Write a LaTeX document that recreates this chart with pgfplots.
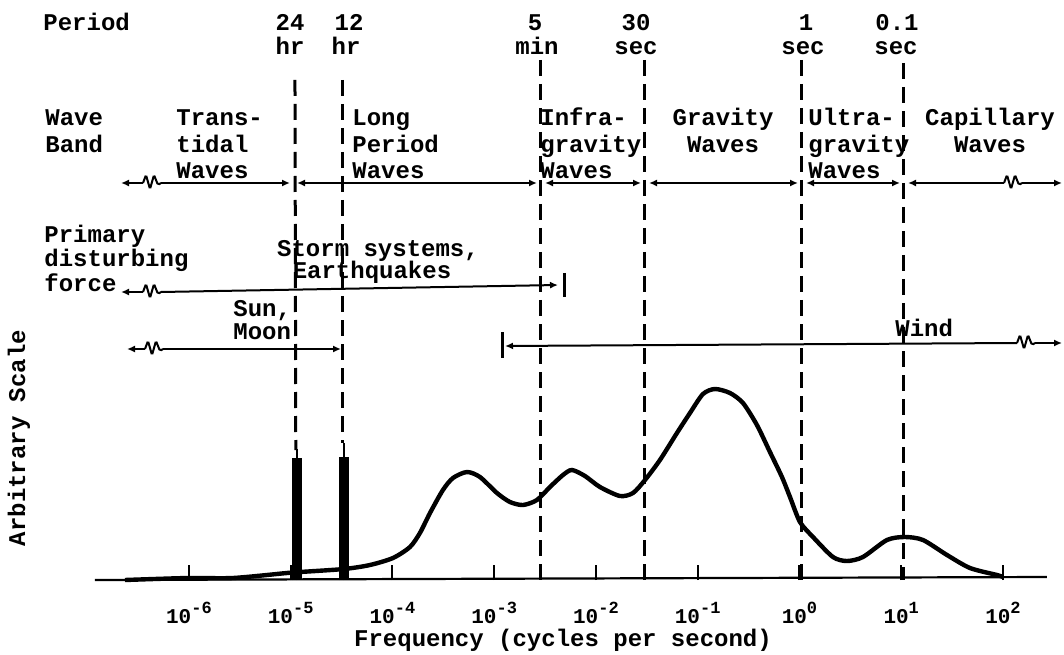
\documentclass[border=0pt]{standalone}
\usepackage{pgfplots}
\pgfplotsset{compat=1.18}
\usepackage{fontspec}
\setmainfont{Liberation Mono}
\usetikzlibrary{arrows.meta}
\newcommand{\tf}{\fontsize{12}{14}\selectfont\bfseries}
\newcommand{\E}[1]{10\raisebox{5pt}{\fontsize{8.5}{9}\selectfont #1}}
\tikzset{wig/.pic={\draw[line width=1pt, rounded corners=0.8pt] (0,0) -- (3,-8) -- (7,6) -- (11,-8) -- (15,2) -- (18,0);}}
\begin{document}
\begin{tikzpicture}
\begin{axis}[
  at={(0,0)}, anchor=south west,
  scale only axis, width=532pt, height=327pt,
  xmin=-7.857, xmax=2.600, ymin=-74, ymax=580,
  axis x line=middle, axis y line=none,
  x axis line style={draw=none},
  hide obscured x ticks=false,
  xtick={-6,-5,-4,-3,-2,-1,0,1,2},
  xticklabels={\E{-6},\E{-5},\E{-4},\E{-3},\E{-2},\E{-1},\E{0},\E{1},\E{2}},
  ytick=\empty,
  major tick length=0pt,
  xticklabel style={font=\fontsize{10.5}{12}\selectfont\bfseries, anchor=base, yshift=-21.5pt, inner sep=0pt},
  clip=false,
]
% baseline
\addplot[black, line width=1.1pt] coordinates {(-6.924,0) (2.432,3)};
% tick marks (pointing up from the baseline)
\addplot[black, ycomb, line width=1pt] coordinates {(-6,15) (-5,15) (-4,15) (-3,15) (-2,15) (-1,15) (0,15) (1,15) (2,15)};
% spectrum curve
\addplot[black, line width=2.2pt, smooth, tension=0.45] coordinates {
(-6.629,0) (-6.010,2) (-5.568,2) (-5.037,7) (-4.909,8) (-4.477,11) (-4.221,15)
(-3.995,22) (-3.828,33) (-3.730,47) (-3.631,67) (-3.504,90) (-3.405,102)
(-3.268,108) (-3.140,103) (-2.973,87) (-2.845,78) (-2.717,75) (-2.580,80)
(-2.452,93) (-2.324,105) (-2.236,110) (-2.108,104) (-1.961,93) (-1.764,84)
(-1.636,87) (-1.518,100) (-1.371,120) (-1.204,147) (-1.076,167) (-0.948,186)
(-0.830,191) (-0.683,187) (-0.555,177) (-0.418,155) (-0.290,128) (-0.172,103)
(-0.093,83) (0.005,58) (0.133,43) (0.329,23) (0.467,19) (0.624,23) (0.860,40)
(1.037,43) (1.214,40) (1.450,25) (1.676,12) (1.941,5) (2.000,3)};
% tidal lines (24 hr, 12 hr)
\addplot[black, ycomb, line width=5pt] coordinates {(-4.939,122) (-4.477,123)};
\addplot[black, ycomb, line width=1.4pt] coordinates {(-4.939,131) (-4.477,137)};
% period boundaries
\addplot[black, line width=1.5pt, dash pattern=on 8pt off 4pt] coordinates {(-4.958,500) (-4.950,130)};
\addplot[black, line width=1.5pt, dash pattern=on 8pt off 4pt] coordinates {(-4.487,500) (-4.487,137)};
\addplot[black, line width=1.5pt, dash pattern=on 8pt off 4pt] coordinates {(-2.541,520) (-2.541,0)};
\addplot[black, line width=1.5pt, dash pattern=on 8pt off 4pt] coordinates {(-1.518,520) (-1.518,0)};
\addplot[black, line width=1.5pt, dash pattern=on 8pt off 4pt] coordinates {(0.025,520) (0.025,0)};
\addplot[black, line width=1.5pt, dash pattern=on 8pt off 4pt] coordinates {(1.027,517) (1.027,0)};
\end{axis}
\begin{scope}[shift={(0pt,327pt)}, x=0.5pt, y=-0.5pt, every node/.style={inner sep=0pt, font=\tf}]
% Period row
\node[anchor=base west] at (43,31) {Period};
\node[anchor=base] at (290,31) {24};
\node[anchor=base] at (349,31) {12};
\node[anchor=base] at (535,31) {5};
\node[anchor=base] at (636,31) {30};
\node[anchor=base] at (806,31) {1};
\node[anchor=base] at (897,31) {0.1};
\node[anchor=base] at (290,55) {hr};
\node[anchor=base] at (346,55) {hr};
\node[anchor=base] at (537,55) {min};
\node[anchor=base] at (636,55) {sec};
\node[anchor=base] at (803,55) {sec};
\node[anchor=base] at (896,55) {sec};
% Wave band
\node[anchor=base west] at (45,126) {Wave};
\node[anchor=base west] at (45,153) {Band};
\node[anchor=base west] at (176,126) {Trans-};
\node[anchor=base west] at (176,153) {tidal};
\node[anchor=base west] at (176,179) {Waves};
\node[anchor=base west] at (352,126) {Long};
\node[anchor=base west] at (352,153) {Period};
\node[anchor=base west] at (352,179) {Waves};
\node[anchor=base west] at (540,126) {Infra-};
\node[anchor=base west] at (540,153) {gravity};
\node[anchor=base west] at (540,179) {Waves};
\node[anchor=base] at (723,126) {Gravity};
\node[anchor=base] at (723,153) {Waves};
\node[anchor=base west] at (808,126) {Ultra-};
\node[anchor=base west] at (808,153) {gravity};
\node[anchor=base west] at (808,179) {Waves};
\node[anchor=base] at (990,126) {Capillary};
\node[anchor=base] at (990,153) {Waves};
% Wave band arrows
\begin{scope}[line width=1pt, >={Latex[length=4pt,width=3.5pt]}]
\draw[<-] (121,183) -- (143,183);
\pic at (143,183) {wig};
\draw[->] (161,183) -- (290,183);
\draw[<->] (297,183) -- (537,183);
\draw[<->] (545,183) -- (641,183);
\draw[<->] (649,183) -- (798,183);
\draw[<->] (806,183) -- (900,183);
\draw[<-] (908,183) -- (1004,183);
\pic at (1004,183) {wig};
\draw[->] (1022,183) -- (1062,183);
% Primary disturbing force
\draw[<-] (121,292) -- (143,292);
\pic at (143,292) {wig};
\draw[->] (161,292) -- (558,285);
\draw[line width=1.5pt] (564,273) -- (564,297);
\draw[<-] (127,349) -- (145,349);
\pic at (145,349) {wig};
\draw[->] (163,349) -- (341,349);
\draw[line width=1.5pt] (502,332) -- (502,358);
\draw[<-] (505,346) -- (1017,343);
\pic at (1017,343) {wig};
\draw[->] (1035,343) -- (1062,343);
\end{scope}
\node[anchor=base west] at (44,243) {Primary};
\node[anchor=base west] at (44,267) {disturbing};
\node[anchor=base west] at (44,291) {force};
\node[anchor=base] at (378,257) {Storm systems,};
\node[anchor=base] at (372,279) {Earthquakes};
\node[anchor=base west] at (233,317) {Sun,};
\node[anchor=base west] at (233,339) {Moon};
\node[anchor=base west] at (895,336) {Wind};
% axis titles
\node[rotate=90] at (19,438) {Arbitrary Scale};
\node[anchor=base] at (563,646) {Frequency (cycles per second)};
\end{scope}
\pgfresetboundingbox
\path[use as bounding box] (0,0) rectangle (532pt,327pt);
\end{tikzpicture}
\end{document}
